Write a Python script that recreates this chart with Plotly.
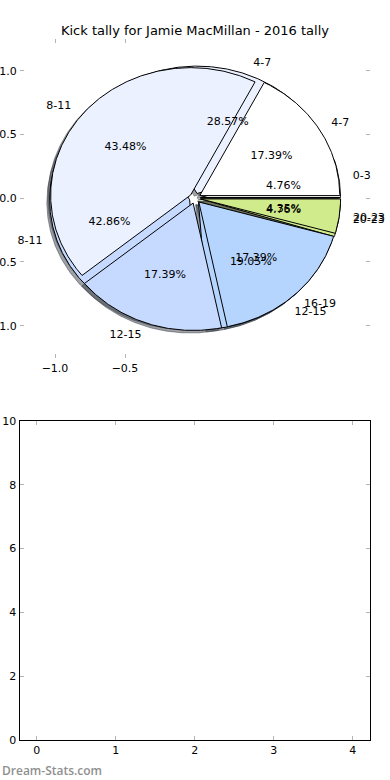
import numpy as np
import plotly.graph_objects as go

# ---- data ----
hours = ["0-3", "4-7", "8-11", "12-15", "16-19", "20-23"]
tally_first = [1, 6, 9, 4, 0, 1]
tally_second = [0, 4, 10, 4, 4, 1]
slice_colors = ["#FFFFFF", "#EBF1FF", "#C6D9FF", "#B5D5FF", "#D0EB8B"]
pie_x_ticks = [-1.0, -0.5]
pie_y_ticks = [1.0, 0.5, 0.0, -0.5, -1.0]
lower_x_ticks = [0, 1, 2, 3, 4]
lower_y_ticks = [0, 2, 4, 6, 8, 10]
title_text = "Kick tally for Jamie MacMillan - 2016 tally"
watermark = "Dream-Stats.com"

# ---- style constants ----
EXPLODE = 0.04
SHADOW_OFF = (-0.02, -0.02)
LABEL_DIST = 1.1
PCT_DIST = 0.6
FONT = "DejaVu Sans"
TICK_GRAY = "#b4b4b4"


def build_wedges(tally):
    items = [(h, v) for h, v in zip(hours, tally) if v > 0]
    total = float(sum(v for _, v in items))
    out = []
    theta1 = 0.0
    for i, (h, v) in enumerate(items):
        frac = v / total
        theta2 = theta1 + 360.0 * frac
        tm = np.deg2rad(0.5 * (theta1 + theta2))
        cx, cy = EXPLODE * np.cos(tm), EXPLODE * np.sin(tm)
        n = max(int(theta2 - theta1) * 2, 4)
        t = np.deg2rad(np.linspace(theta1, theta2, n))
        xs = np.concatenate([[cx], cx + np.cos(t), [cx]])
        ys = np.concatenate([[cy], cy + np.sin(t), [cy]])
        out.append(dict(label=h, pct="%.2f%%" % (100 * frac), xs=xs, ys=ys,
                        color=slice_colors[i], cx=cx, cy=cy, tm=tm))
        theta1 = theta2
    return out


pies = [build_wedges(tally_first), build_wedges(tally_second)]


def shade(hexcol):
    r, g, b = (int(hexcol[k:k + 2], 16) for k in (1, 3, 5))
    return "rgba(%d,%d,%d,0.5)" % (0.3 * r, 0.3 * g, 0.3 * b)


fig = go.Figure()

# shadows (behind every wedge)
for pie in pies:
    for w in pie:
        fig.add_trace(go.Scatter(
            x=w["xs"] + SHADOW_OFF[0], y=w["ys"] + SHADOW_OFF[1], mode="lines",
            fill="toself", fillcolor=shade(w["color"]),
            line=dict(color=shade(w["color"]), width=1),
            hoverinfo="skip", xaxis="x", yaxis="y"))

# wedges
for pie in pies:
    for w in pie:
        fig.add_trace(go.Scatter(
            x=w["xs"], y=w["ys"], mode="lines", fill="toself",
            fillcolor=w["color"], line=dict(color="black", width=1),
            hoverinfo="skip", xaxis="x", yaxis="y"))

# texts
for pie in pies:
    lx, ly, lpos, lt = [], [], [], []
    px, py, pt = [], [], []
    for w in pie:
        x = w["cx"] + LABEL_DIST * np.cos(w["tm"])
        y = w["cy"] + LABEL_DIST * np.sin(w["tm"])
        lx.append(x); ly.append(y); lt.append(w["label"])
        lpos.append("middle right" if x > 0 else "middle left")
        px.append(w["cx"] + PCT_DIST * np.cos(w["tm"]))
        py.append(w["cy"] + PCT_DIST * np.sin(w["tm"]))
        pt.append(w["pct"])
    fig.add_trace(go.Scatter(x=lx, y=ly, text=lt, mode="text", textposition=lpos,
                             textfont=dict(family=FONT, size=11, color="black"),
                             cliponaxis=False, hoverinfo="skip", xaxis="x", yaxis="y"))
    fig.add_trace(go.Scatter(x=px, y=py, text=pt, mode="text", textposition="middle center",
                             textfont=dict(family=FONT, size=11, color="black"),
                             cliponaxis=False, hoverinfo="skip", xaxis="x", yaxis="y"))

# empty lower axes
fig.add_trace(go.Scatter(x=[], y=[], mode="markers", xaxis="x2", yaxis="y2", hoverinfo="skip"))

W, H = 390, 780
tickfont = dict(family=FONT, size=11, color="black")
common = dict(ticks="inside", ticklen=4, tickwidth=1, tickcolor=TICK_GRAY,
              showgrid=False, zeroline=False, tickfont=tickfont, automargin=False,
              fixedrange=True)

fig.update_layout(
    width=W, height=H, margin=dict(l=0, r=0, t=0, b=0),
    template="none", paper_bgcolor="white", plot_bgcolor="rgba(0,0,0,0)",
    showlegend=False, font=dict(family=FONT, size=11, color="black"),
    title=dict(text=title_text, x=0.5, xanchor="center", xref="paper",
               y=1 - 30 / H, yanchor="middle", yref="paper",
               font=dict(family=FONT, size=13, color="black")),
    xaxis=dict(domain=[20 / W, 370 / W], range=[-1.25, 1.25], anchor="y",
               tickvals=pie_x_ticks, ticktext=["\u2212%.1f" % abs(v) for v in pie_x_ticks],
               showline=True, linecolor="rgba(0,0,0,0)", mirror="ticks", **common),
    yaxis=dict(domain=[1 - 357.5 / H, 1 - 39 / H], range=[-1.25, 1.25], anchor="x",
               tickvals=pie_y_ticks, tickformat=".1f",
               showline=True, linecolor="rgba(0,0,0,0)", mirror="ticks", **common),
    xaxis2=dict(domain=[19.5 / W, 370 / W], range=[-0.22, 4.22], anchor="y2",
                tickvals=lower_x_ticks, showline=True, linecolor="black", linewidth=1,
                mirror="ticks", **common),
    yaxis2=dict(domain=[1 - 740 / H, 1 - 421 / H], range=[0, 10], anchor="x2",
                tickvals=lower_y_ticks, showline=True, linecolor="black", linewidth=1,
                mirror="ticks", **common),
    annotations=[dict(text=watermark, x=0, xref="paper", xanchor="left",
                      y=1 - 770 / H, yref="paper", yanchor="middle", showarrow=False,
                      font=dict(family="Open Sans", size=12, color="#8f8f8f", weight=600))],
)

fig.write_html("out.html", config={"displayModeBar": False},
               post_script="document.body.style.margin='0';document.body.style.padding='0';")
